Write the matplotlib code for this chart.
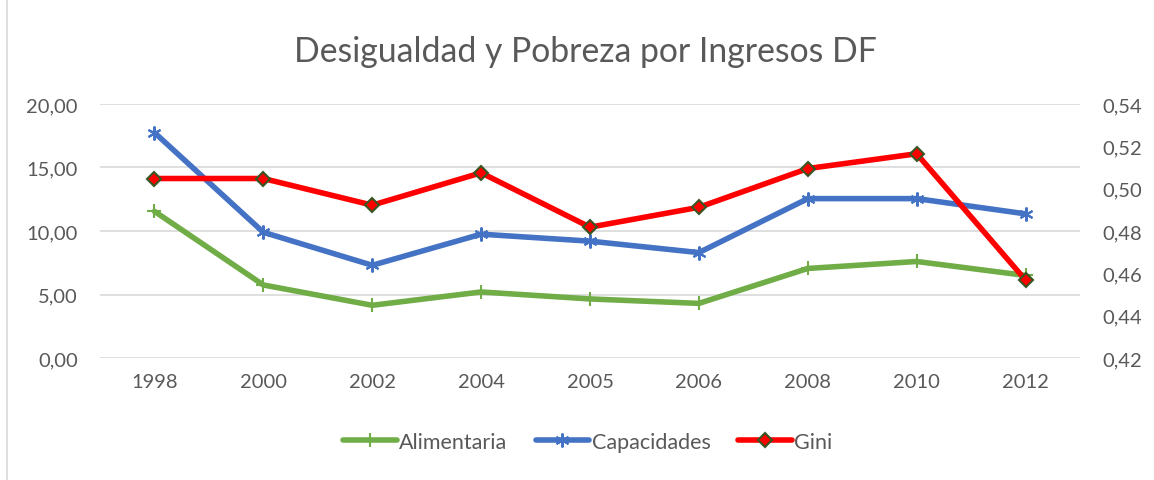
import matplotlib
matplotlib.use("Agg")
import matplotlib.pyplot as plt
from matplotlib.lines import Line2D
from matplotlib.patches import Rectangle

years = ["1998", "2000", "2002", "2004", "2005", "2006", "2008", "2010", "2012"]
alimentaria = [11.55, 5.75, 4.15, 5.2, 4.65, 4.3, 7.05, 7.6, 6.5]
capacidades = [17.75, 9.9, 7.3, 9.75, 9.2, 8.3, 12.55, 12.55, 11.35]
gini = [0.5048, 0.5048, 0.4922, 0.5075, 0.4818, 0.4912, 0.5095, 0.5165, 0.4568]

left_ticks = [0, 5, 10, 15, 20]
right_ticks = [0.42, 0.44, 0.46, 0.48, 0.50, 0.52, 0.54]

plt.rcParams['font.family'] = ['Lato', 'DejaVu Sans']
txt = '#595959'
W, H = 1154, 481

fig = plt.figure(figsize=(W / 100, H / 100), dpi=100)
fig.patches.append(Rectangle((7 / W, -0.01), 1.0, 1.02, transform=fig.transFigure,
                             fill=False, edgecolor='#d9d9d9', linewidth=1.2))
ax = fig.add_axes([100 / W, 1 - 359 / H, (1080 - 100) / W, (359 - 105) / H])
x = list(range(len(years)))

lw = 4.0
star = (6, 2, 0)
ax.plot(x, alimentaria, color='#70AD47', lw=lw, marker='+', ms=9.5, mew=1.5,
        label='Alimentaria', solid_capstyle='round', zorder=3)
ax.plot(x, capacidades, color='#4472C4', lw=lw, marker=star, ms=10, mew=1.5,
        label='Capacidades', solid_capstyle='round', zorder=3)
ax.set_ylim(0, 20)
ax.set_xlim(-0.5, len(years) - 0.5)
ax.set_yticks(left_ticks)
ax.set_yticklabels([f"{v:.2f}".replace('.', ',') for v in left_ticks])
ax.set_xticks(x)
ax.set_xticklabels(years)
ax.grid(axis='y', color='#d9d9d9', lw=1.2)
ax.set_axisbelow(True)
for s in ax.spines.values():
    s.set_visible(False)
ax.tick_params(axis='both', length=0, labelsize=14.5, colors=txt, pad=16)
ax.tick_params(axis='x', pad=11)

ax2 = ax.twinx()
ax2.plot(x, gini, color='#FF0000', lw=lw, marker='D', ms=7.5, mfc='#FF0000',
         mec='#375623', mew=1.5, label='Gini', solid_capstyle='round', zorder=4)
ax2.set_ylim(0.42, 0.54)
ax2.set_yticks(right_ticks)
ax2.set_yticklabels([f"{v:.2f}".replace('.', ',') for v in right_ticks])
for s in ax2.spines.values():
    s.set_visible(False)
ax2.tick_params(axis='y', length=0, labelsize=14.5, colors=txt, pad=16)

fig.text(585 / W, 1 - 52 / H, 'Desigualdad y Pobreza por Ingresos DF', ha='center', va='center',
         fontsize=24.3, color=txt)

handles = [
    Line2D([], [], color='#70AD47', lw=lw, marker='+', ms=9.5, mew=1.5, solid_capstyle='round'),
    Line2D([], [], color='#4472C4', lw=lw, marker=star, ms=10, mew=1.5, solid_capstyle='round'),
    Line2D([], [], color='#FF0000', lw=lw, marker='D', ms=7.5, mfc='#FF0000', mec='#375623', mew=1.5,
           solid_capstyle='round'),
]
fig.legend(handles, ['Alimentaria', 'Capacidades', 'Gini'], loc='center',
           bbox_to_anchor=(588 / W, 1 - 443 / H), ncol=3, frameon=False, fontsize=15.5,
           labelcolor=txt, handlelength=2.5, handletextpad=0.1, columnspacing=1.3)

fig.savefig('out.png', dpi=100)
